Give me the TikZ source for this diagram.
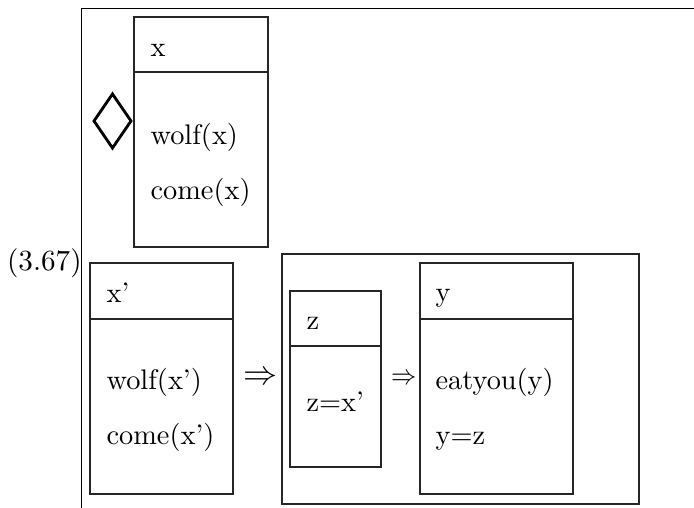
\documentclass[tikz,border=0pt]{standalone}
\usepackage{graphicx}
\begin{document}
\begin{tikzpicture}[x=0.3528pt,y=-0.3528pt,
  boxline/.style={draw=black!85,line width=0.4pt},
  txt/.style={anchor=base west,inner sep=0pt,font=\fontsize{10}{12}\selectfont}]
\useasboundingbox (0,0) rectangle (694,508);
% outer frame
\coordinate (ftr) at (694,8.5);
\coordinate (ftl) at (81.5,8.5);
\coordinate (fbl) at (81.5,508);
\draw[line width=0.5pt] (ftr) -- (ftl) -- (fbl);
\node[txt,font=\fontsize{10.3}{12}\selectfont] (lbl) at (6.5,271) {(3.67)};
% diamond
\coordinate (dl) at (94,121);
\coordinate (dt) at (112.5,94);
\coordinate (dr) at (131,121);
\coordinate (db) at (112.5,148);
\draw[line width=1pt,line join=miter] (dl) -- (dt) -- (dr) -- (db) -- cycle;
% box 1
\draw[boxline] (134,17) rectangle (268,247);
\draw[boxline] (134,72) -- (268,72);
\node[txt] (b1h) at (150,57) {x};
\node[txt] (b1a) at (150,145) {wolf(x)};
\node[txt] (b1b) at (150,200) {come(x)};
% box 2
\draw[boxline] (90,263) rectangle (233,494);
\draw[boxline] (90,319) -- (233,319);
\node[txt] (b2h) at (106,303) {x'};
\node[txt] (b2a) at (106,390) {wolf(x')};
\node[txt] (b2b) at (106,445) {come(x')};
% arrow 1
\node[inner sep=0pt,font=\fontsize{12}{14}\selectfont] (ar1) at (260.5,378) {$\Rightarrow$};
% big box
\draw[boxline] (282,254) rectangle (639,504);
% box z
\draw[boxline] (290,291) rectangle (381,467);
\draw[boxline] (290,346) -- (381,346);
\node[txt] (bzh) at (306,330) {z};
\node[txt] (bza) at (306,412) {z=x'};
% arrow 2
\node[inner sep=0pt,font=\fontsize{10}{12}\selectfont] (ar2) at (404.5,379.5) {\scalebox{0.89}[1]{$\Rightarrow$}};
% box y
\draw[boxline] (420,263) rectangle (573,494);
\draw[boxline] (420,319) -- (573,319);
\node[txt] (byh) at (435,302) {y};
\node[txt] (bya) at (435,390) {eatyou(y)};
\node[txt] (byb) at (435,445) {y=z};
\end{tikzpicture}
\end{document}
